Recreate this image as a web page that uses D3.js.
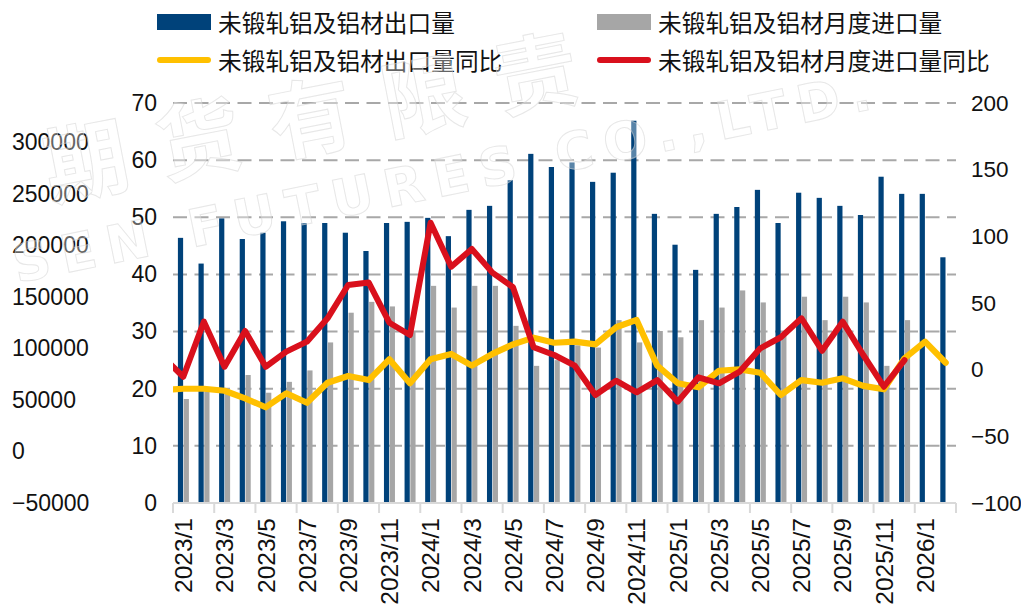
<!DOCTYPE html>
<html><head><meta charset="utf-8">
<script src="https://cdn.jsdelivr.net/npm/d3@7"></script>
<style>
html,body{margin:0;padding:0;background:#fff;}
svg{display:block;}
</style></head><body>
<svg id="chart" width="1021" height="607"></svg>
<script>
// ---------- DATA ----------
const months = [
  "2023/1","2023/2","2023/3","2023/4","2023/5","2023/6","2023/7","2023/8","2023/9","2023/10","2023/11","2023/12",
  "2024/1","2024/2","2024/3","2024/4","2024/5","2024/6","2024/7","2024/8","2024/9","2024/10","2024/11","2024/12",
  "2025/1","2025/2","2025/3","2025/4","2025/5","2025/6","2025/7","2025/8","2025/9","2025/10","2025/11","2025/12",
  "2026/1","2026/2"];
// 未锻轧铝及铝材出口量 (万吨)
const exportVol = [46.4,41.9,49.8,46.2,47.3,49.3,49.0,49.0,47.3,44.1,49.0,49.2,
  49.9,46.7,51.3,52.0,56.5,61.1,58.8,59.6,56.2,57.8,66.9,50.6,
  45.2,40.8,50.6,51.8,54.8,49.0,54.3,53.4,52.0,50.4,57.1,54.1,
  54.1,43.0];
// 未锻轧铝及铝材月度进口量 (万吨)
const importVol = [18.2,19.5,19.2,22.4,19.3,21.2,23.2,28.1,33.3,35.2,34.4,30.0,
  38.0,34.2,38.0,38.0,31.0,24.0,25.0,27.6,27.2,32.0,28.1,30.1,
  29.0,32.0,34.2,37.2,35.1,29.5,36.1,32.0,36.1,35.1,24.0,32.0,
  null,null];
// 出口量同比 (%)
const exportYoY = [-14.3,-14.3,-15.8,-21.5,-28.2,-17.7,-24.8,-9.8,-4.8,-7.8,7.8,-10.2,
  7.8,11.8,3.0,11.8,19.0,24.0,20.2,21.0,19.0,31.8,37.3,3.0,
  -10.2,-13.2,-0.8,0.2,-2.3,-19.0,-7.8,-9.8,-6.5,-12.2,-14.7,8.5,
  21.0,5.2];
// 进口量同比 (%)
const importYoY = [-5.3,36.0,2.2,29.0,2.2,13.5,21.0,38.5,63.5,65.3,35.2,26.0,
  110.2,77.2,90.5,72.8,61.8,16.8,11.0,3.0,-19.0,-8.3,-17.0,-7.8,
  -24.0,-5.7,-10.2,-1.5,16.0,24.3,38.5,14.2,36.0,11.0,-12.8,7.2,
  null,null];
// value of the month before the first category (2022/12); the lines run in from the left edge
const exportYoYPrior = -15.3;
const importYoYPrior = 9.7;

const leftTicks = [0,10,20,30,40,50,60,70];
const rightTicks = [-100,-50,0,50,100,150,200];
const outerTicks = [-50000,0,50000,100000,150000,200000,250000,300000];
const xLabelMonths = months.filter((m,i)=>i%2===0);

const seriesNames = ["未锻轧铝及铝材出口量","未锻轧铝及铝材月度进口量","未锻轧铝及铝材出口量同比","未锻轧铝及铝材月度进口量同比"];
const watermarkCN = ["期","货","有","限","责"];
const watermarkEN = "SEN FUTURES CO.,LTD.";
const colors = {export:"#00427A", import:"#A6A6A6", exportYoY:"#FFC000", importYoY:"#D9101C"};

// ---------- CHART ----------
const svg = d3.select("#chart");
const numFont = "'Liberation Sans', Arial, Helvetica, sans-serif";
const cjkFont = "'Noto Sans CJK SC', 'Noto Sans', sans-serif";

const plotL = 173, plotR = 956, plotT = 103, plotB = 503;
const x = d3.scaleBand().domain(months).range([plotL, plotR]).paddingInner(0).paddingOuter(0);
const sub = d3.scaleBand().domain(["exp","imp"]).range([-5.4, 5.6]).paddingInner(0.1);
const yL = d3.scaleLinear().domain([0,70]).range([plotB, plotT]);
const yR = d3.scaleLinear().domain([-100,200]).range([plotB, plotT]);
const yO = d3.scaleLinear().domain([-50000,300000]).range([plotB, 142.4]);

// grid
svg.append("g").selectAll("line").data(leftTicks.filter(t=>t>0)).join("line")
  .attr("x1", plotL).attr("x2", plotR)
  .attr("y1", d=>yL(d)).attr("y2", d=>yL(d))
  .attr("stroke", "#A8A8A8").attr("stroke-width", 2).attr("stroke-dasharray", "14 7.5");

// bars
const cx = m => x(m) + x.bandwidth()/2;
svg.append("g").selectAll("rect").data(months.map((m,i)=>({m, v:exportVol[i]}))).join("rect")
  .attr("x", d=>cx(d.m)+sub("exp")).attr("width", sub.bandwidth())
  .attr("y", d=>yL(d.v)).attr("height", d=>yL(0)-yL(d.v))
  .attr("fill", colors.export);
svg.append("g").selectAll("rect").data(months.map((m,i)=>({m, v:importVol[i]})).filter(d=>d.v!=null)).join("rect")
  .attr("x", d=>cx(d.m)+sub("imp")).attr("width", sub.bandwidth())
  .attr("y", d=>yL(d.v)).attr("height", d=>yL(0)-yL(d.v))
  .attr("fill", colors.import);

// x axis line & ticks
svg.append("line").attr("x1", plotL).attr("x2", plotR).attr("y1", plotB).attr("y2", plotB)
  .attr("stroke", "#D9D9D9").attr("stroke-width", 2);
const tickPos = months.filter((m,i)=>i%2===0).map(m=>x(m)).concat([plotR]);
svg.append("g").selectAll("line").data(tickPos).join("line")
  .attr("x1", d=>d).attr("x2", d=>d).attr("y1", plotB).attr("y2", plotB+10)
  .attr("stroke", "#D9D9D9").attr("stroke-width", 2);

// lines (clipped to plot width)
svg.append("defs").append("clipPath").attr("id","plotclip").append("rect")
  .attr("x", plotL).attr("y", 0).attr("width", plotR-plotL).attr("height", 607);
const prevX = x(months[0]) - x.step() + x.bandwidth()/2;
function linePts(prior, arr){
  const pts = [[prevX, prior]];
  arr.forEach((v,i)=>{ if(v!=null) pts.push([cx(months[i]), v]); });
  return pts;
}
const lineGen = d3.line().x(d=>d[0]).y(d=>yR(d[1]));
const lg = svg.append("g").attr("clip-path","url(#plotclip)");
lg.append("path").attr("d", lineGen(linePts(exportYoYPrior, exportYoY)))
  .attr("fill","none").attr("stroke", colors.exportYoY).attr("stroke-width", 6.2)
  .attr("stroke-linejoin","round").attr("stroke-linecap","round");
lg.append("path").attr("d", lineGen(linePts(importYoYPrior, importYoY)))
  .attr("fill","none").attr("stroke", colors.importYoY).attr("stroke-width", 6)
  .attr("stroke-linejoin","round").attr("stroke-linecap","round");

// x labels
const xAxis = svg.append("g").attr("transform", `translate(0,${plotB})`)
  .call(d3.axisBottom(x).tickValues(xLabelMonths).tickSize(0).tickPadding(0));
xAxis.select(".domain").remove();
xAxis.selectAll("text")
  .attr("transform","rotate(-90)").attr("x",-15).attr("y",0).attr("dy","0.36em")
  .style("text-anchor","end").style("font-family", numFont).style("font-size","24.5px").attr("fill","#111");

// left inner axis
const la = svg.append("g").attr("transform","translate(160,0)")
  .call(d3.axisLeft(yL).tickValues(leftTicks).tickSize(0).tickPadding(3));
la.select(".domain").remove();
la.selectAll("text").style("font-family", numFont).style("font-size","23px").attr("fill","#111");

// outer left axis
const oa = svg.append("g").attr("transform","translate(12,0)")
  .call(d3.axisRight(yO).tickValues(outerTicks).tickSize(0).tickPadding(0).tickFormat(d3.format("d")));
oa.select(".domain").remove();
oa.selectAll("text").style("font-family", numFont).style("font-size","23px").attr("fill","#111");

// right axis
const ra = svg.append("g").attr("transform",`translate(${plotR},0)`)
  .call(d3.axisRight(yR).tickValues(rightTicks).tickSize(0).tickPadding(15).tickFormat(d3.format("d")));
ra.select(".domain").remove();
ra.selectAll("text").style("font-family", numFont).style("font-size","22.5px").attr("fill","#111");

// legend
const leg = svg.append("g");
const legItems = [
  {name:seriesNames[0], type:"rect", color:colors.export, x:157, y:22},
  {name:seriesNames[1], type:"rect", color:colors.import, x:597, y:22},
  {name:seriesNames[2], type:"line", color:colors.exportYoY, x:157, y:60},
  {name:seriesNames[3], type:"line", color:colors.importYoY, x:597, y:60}
];
legItems.forEach(it=>{
  if(it.type==="rect"){
    leg.append("rect").attr("x", it.x).attr("y", it.y-8).attr("width", 54).attr("height", 16).attr("fill", it.color);
  } else {
    leg.append("line").attr("x1", it.x+3).attr("x2", it.x+51).attr("y1", it.y).attr("y2", it.y)
      .attr("stroke", it.color).attr("stroke-width", 6).attr("stroke-linecap","round");
  }
  leg.append("text").attr("x", it.x+61).attr("y", it.y).attr("dominant-baseline","central")
    .style("font-family", cjkFont).style("font-size","23.7px").attr("fill","#111").text(it.name);
});

// faint watermark
const wm = svg.append("g").style("pointer-events","none");
const wmStyle = sel => sel.attr("fill","rgba(255,255,255,0.35)").attr("stroke","#d4d4d4")
  .attr("stroke-width",1).attr("stroke-opacity",0.55);
const angDeg = -11, ang = angDeg*Math.PI/180, adv = 114.5;
wm.selectAll("text.cn").data(watermarkCN).join("text").attr("class","cn")
  .attr("transform",(d,i)=>`translate(${85+i*adv*Math.cos(ang)},${156+i*adv*Math.sin(ang)}) rotate(${angDeg})`)
  .attr("text-anchor","middle").attr("dominant-baseline","central")
  .style("font-family", cjkFont).style("font-weight","700").style("font-size","84px")
  .call(wmStyle).text(d=>d);
wm.append("text").attr("transform","translate(17,283) rotate(-11.5)")
  .style("font-family", "'DejaVu Sans', sans-serif").style("font-weight","700").style("font-size","52px").style("letter-spacing","11px")
  .call(wmStyle).text(watermarkEN);
</script>
</body></html>
